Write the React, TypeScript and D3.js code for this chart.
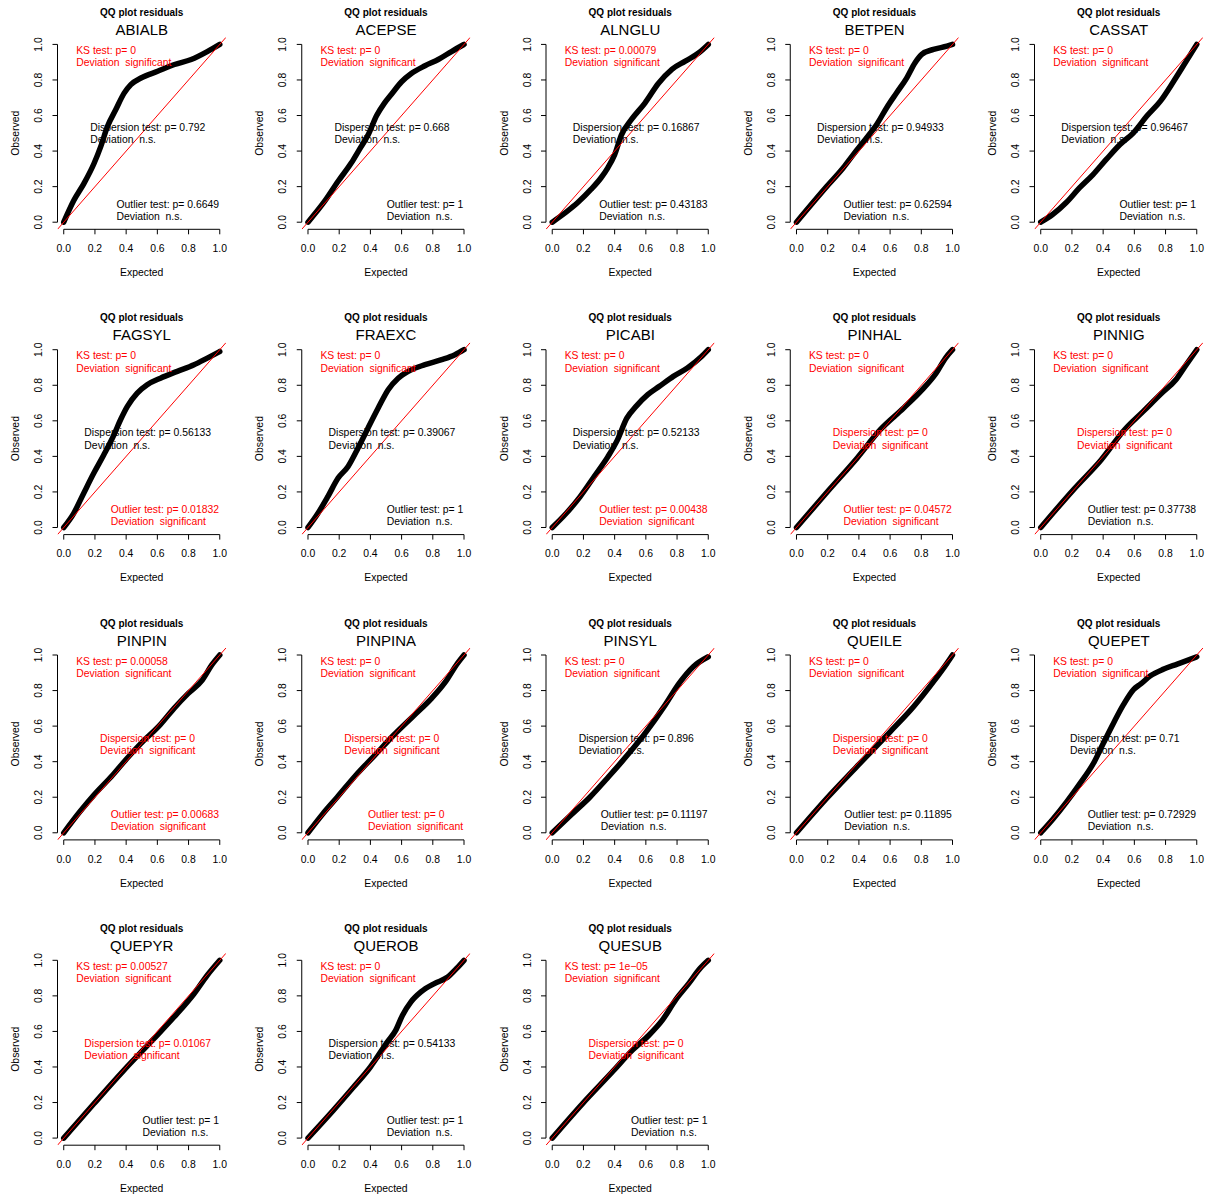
import React from "react";
import * as d3 from "d3";

// ---- data ----
const species = [
  "ABIALB", "ACEPSE", "ALNGLU", "BETPEN", "CASSAT",
  "FAGSYL", "FRAEXC", "PICABI", "PINHAL", "PINNIG",
  "PINPIN", "PINPINA", "PINSYL", "QUEILE", "QUEPET",
  "QUEPYR", "QUEROB", "QUESUB",
];
const ksP = [0, 0, 0.00079, 0, 0, 0, 0, 0, 0, 0, 0.00058, 0, 0, 0, 0, 0.00527, 0, 0.00001];
const dispP = [0.792, 0.668, 0.16867, 0.94933, 0.96467, 0.56133, 0.39067, 0.52133, 0, 0, 0, 0, 0.896, 0, 0.71, 0.01067, 0.54133, 0];
const outP = [0.6649, 1, 0.43183, 0.62594, 1, 0.01832, 1, 0.00438, 0.04572, 0.37738, 0.00683, 0, 0.11197, 0.11895, 0.72929, 1, 1, 1];

// QQ curves: [expected, observed]
const qqABIALB = [[0, 0], [0.065, 0.123], [0.129, 0.217], [0.194, 0.33], [0.237, 0.425], [0.28, 0.538], [0.333, 0.632], [0.387, 0.726], [0.43, 0.774], [0.495, 0.811], [0.602, 0.849], [0.71, 0.887], [0.817, 0.915], [0.925, 0.962], [1, 1]];
const qqACEPSE = [[0, 0], [0.107, 0.118], [0.193, 0.23], [0.278, 0.334], [0.33, 0.41], [0.385, 0.49], [0.44, 0.6], [0.49, 0.67], [0.535, 0.72], [0.6, 0.79], [0.66, 0.835], [0.75, 0.88], [0.835, 0.915], [0.92, 0.96], [1, 1]];
const qqALNGLU = [[0, 0], [0.097, 0.062], [0.162, 0.109], [0.248, 0.184], [0.313, 0.25], [0.356, 0.306], [0.4, 0.38], [0.443, 0.49], [0.508, 0.578], [0.594, 0.67], [0.68, 0.78], [0.767, 0.86], [0.853, 0.906], [0.94, 0.953], [1, 1]];
const qqBETPEN = [[0, 0], [0.193, 0.2], [0.3, 0.306], [0.364, 0.38], [0.45, 0.475], [0.514, 0.55], [0.578, 0.644], [0.642, 0.728], [0.707, 0.812], [0.76, 0.897], [0.803, 0.944], [0.878, 0.972], [0.964, 0.99], [1, 1]];
const qqCASSAT = [[0, 0], [0.076, 0.043], [0.162, 0.109], [0.248, 0.193], [0.335, 0.268], [0.42, 0.353], [0.508, 0.437], [0.594, 0.503], [0.68, 0.597], [0.767, 0.681], [0.853, 0.794], [0.94, 0.916], [1, 1]];
const qqFAGSYL = [[0, 0], [0.064, 0.08], [0.128, 0.193], [0.193, 0.306], [0.257, 0.409], [0.321, 0.52], [0.364, 0.606], [0.407, 0.68], [0.471, 0.756], [0.535, 0.803], [0.62, 0.84], [0.728, 0.878], [0.835, 0.915], [0.92, 0.953], [1, 0.99]];
const qqFRAEXC = [[0, 0], [0.064, 0.08], [0.128, 0.175], [0.193, 0.278], [0.257, 0.343], [0.321, 0.447], [0.385, 0.56], [0.45, 0.672], [0.514, 0.775], [0.578, 0.84], [0.642, 0.878], [0.75, 0.916], [0.857, 0.944], [0.942, 0.972], [1, 1]];
const qqPICABI = [[0, 0], [0.09, 0.08], [0.179, 0.174], [0.269, 0.287], [0.358, 0.4], [0.418, 0.493], [0.478, 0.615], [0.537, 0.681], [0.612, 0.747], [0.687, 0.794], [0.776, 0.85], [0.866, 0.897], [0.955, 0.96], [1, 1]];
const qqPINHAL = [[0, 0], [0.209, 0.212], [0.388, 0.39], [0.537, 0.55], [0.687, 0.672], [0.806, 0.775], [0.896, 0.869], [0.955, 0.953], [1, 1]];
const qqPINNIG = [[0, 0], [0.209, 0.212], [0.388, 0.381], [0.537, 0.55], [0.657, 0.653], [0.776, 0.756], [0.866, 0.831], [0.925, 0.906], [1, 1]];
const qqPINPIN = [[0, 0], [0.103, 0.118], [0.193, 0.212], [0.314, 0.325], [0.405, 0.418], [0.495, 0.503], [0.616, 0.606], [0.707, 0.7], [0.798, 0.784], [0.888, 0.859], [0.949, 0.944], [1, 1]];
const qqPINPINA = [[0, 0], [0.097, 0.109], [0.187, 0.2], [0.308, 0.325], [0.429, 0.437], [0.55, 0.55], [0.671, 0.653], [0.792, 0.756], [0.882, 0.85], [0.958, 0.953], [1, 1]];
const qqPINSYL = [[0, 0], [0.12, 0.1], [0.241, 0.2], [0.361, 0.315], [0.482, 0.437], [0.602, 0.568], [0.723, 0.718], [0.813, 0.84], [0.904, 0.934], [1, 0.99]];
const qqQUEILE = [[0, 0], [0.193, 0.193], [0.385, 0.371], [0.6, 0.568], [0.75, 0.709], [0.878, 0.85], [0.964, 0.953], [1, 1]];
const qqQUEPET = [[0, 0], [0.08, 0.079], [0.166, 0.174], [0.252, 0.278], [0.338, 0.391], [0.402, 0.505], [0.467, 0.618], [0.531, 0.722], [0.596, 0.807], [0.639, 0.836], [0.703, 0.883], [0.789, 0.921], [0.875, 0.949], [0.961, 0.977], [1, 0.99]];
const qqQUEPYR = [[0, 0], [0.193, 0.193], [0.385, 0.381], [0.578, 0.559], [0.707, 0.681], [0.835, 0.812], [0.92, 0.916], [1, 1]];
const qqQUEROB = [[0, 0], [0.162, 0.156], [0.292, 0.287], [0.4, 0.4], [0.508, 0.54], [0.562, 0.606], [0.605, 0.69], [0.659, 0.765], [0.724, 0.822], [0.81, 0.869], [0.896, 0.906], [0.961, 0.962], [1, 1]];
const qqQUESUB = [[0, 0], [0.193, 0.193], [0.385, 0.372], [0.514, 0.495], [0.621, 0.58], [0.707, 0.665], [0.792, 0.779], [0.878, 0.873], [0.942, 0.949], [1, 1]];

const curves = [
  qqABIALB, qqACEPSE, qqALNGLU, qqBETPEN, qqCASSAT,
  qqFAGSYL, qqFRAEXC, qqPICABI, qqPINHAL, qqPINNIG,
  qqPINPIN, qqPINPINA, qqPINSYL, qqQUEILE, qqQUEPET,
  qqQUEPYR, qqQUEROB, qqQUESUB,
];
const ticks = [0, 0.2, 0.4, 0.6, 0.8, 1.0];

// ---- layout ----
const W = 1211;
const H = 1196;
const COL_W = 244.25;
const ROW_H = 305.3;
const PL = 57.5, PR = 226, PT = 37.3, PB = 229.3;
const FONT = "'Liberation Sans', Arial, Helvetica, sans-serif";
const FS = 10.4;

let ctx: CanvasRenderingContext2D | null = null;
function textW(s: string) {
  if (!ctx) {
    const c = document.createElement("canvas");
    ctx = c.getContext("2d");
  }
  if (!ctx) return s.length * 5.5;
  ctx.font = `${FS}px ${FONT}`;
  return ctx.measureText(s).width;
}

function fmtP(p: number) {
  if (p === 0) return "0";
  if (p < 1e-4) {
    const e = Math.floor(Math.log10(p));
    const m = Math.round(p / Math.pow(10, e));
    return `${m}e\u2212${String(-e).padStart(2, "0")}`;
  }
  return String(p);
}

function Panel({ i }: { i: number }) {
  const col = i % 5;
  const row = Math.floor(i / 5);
  const ox = col * COL_W;
  const oy = row * ROW_H;
  const x = d3.scaleLinear().domain([-0.04, 1.04]).range([PL, PR]);
  const y = d3.scaleLinear().domain([-0.04, 1.04]).range([PB, PT]);
  const line = d3
    .line<number[]>()
    .x((d) => x(d[0]))
    .y((d) => y(d[1]))
    .curve(d3.curveMonotoneX);
  const cx = (PL + PR) / 2;
  const cy = (PT + PB) / 2;

  const tests = [
    { label: "KS test", p: ksP[i] },
    { label: "Dispersion test", p: dispP[i] },
    { label: "Outlier test", p: outP[i] },
  ].map((t) => {
    const sig = t.p < 0.05;
    return {
      l1: `${t.label}: p= ${fmtP(t.p)}`,
      l2: sig ? "Deviation  significant" : "Deviation  n.s.",
      color: sig ? "#FF0000" : "#000000",
    };
  });
  const wMid = Math.max(textW(tests[1].l1), textW(tests[1].l2));
  const wBot = Math.max(textW(tests[2].l1), textW(tests[2].l2));
  const pos = [
    { x: PL + 18.7, y1: 54.2 },
    { x: cx - wMid / 2 + 6, y1: cy - 2.2 },
    { x: PR - 7 - wBot, y1: PB - 21.6 },
  ];
  const clipId = `clip${i}`;

  return (
    <g transform={`translate(${ox},${oy})`} fontFamily={FONT}>
      <defs>
        <clipPath id={clipId}>
          <rect x={PL} y={PT} width={PR - PL} height={PB - PT} />
        </clipPath>
      </defs>
      <text x={x(0.5)} y={16} textAnchor="middle" fontSize={10} fontWeight="bold">
        QQ plot residuals
      </text>
      <text x={x(0.5)} y={35} textAnchor="middle" fontSize={15}>
        {species[i]}
      </text>
      {/* axes */}
      <g stroke="#000" strokeWidth={1} fill="none">
        <line x1={x(0)} x2={x(1)} y1={PB} y2={PB} />
        <line x1={PL} x2={PL} y1={y(0)} y2={y(1)} />
        {ticks.map((t) => (
          <line key={"xt" + t} x1={x(t)} x2={x(t)} y1={PB} y2={PB + 5} />
        ))}
        {ticks.map((t) => (
          <line key={"yt" + t} x1={PL} x2={PL - 5} y1={y(t)} y2={y(t)} />
        ))}
      </g>
      {ticks.map((t) => (
        <text key={"xl" + t} x={x(t)} y={252} textAnchor="middle" fontSize={FS}>
          {t.toFixed(1)}
        </text>
      ))}
      {ticks.map((t) => (
        <text
          key={"yl" + t}
          transform={`translate(42,${y(t)}) rotate(-90)`}
          textAnchor="middle"
          fontSize={FS}
        >
          {t.toFixed(1)}
        </text>
      ))}
      <text x={x(0.5)} y={276} textAnchor="middle" fontSize={FS}>
        Expected
      </text>
      <text transform={`translate(19,${y(0.5)}) rotate(-90)`} textAnchor="middle" fontSize={FS}>
        Observed
      </text>
      {/* data */}
      <path
        d={line(curves[i] as number[][]) || ""}
        fill="none"
        stroke="#000"
        strokeWidth={5.5}
        strokeLinecap="round"
        strokeLinejoin="round"
      />
      <line
        x1={x(-0.04)}
        y1={y(-0.04)}
        x2={x(1.04)}
        y2={y(1.04)}
        stroke="#FF0000"
        strokeWidth={1}
        clipPath={`url(#${clipId})`}
      />
      {tests.map((t, k) => (
        <g key={k} fill={t.color} fontSize={FS} style={{ whiteSpace: "pre" }}>
          <text x={pos[k].x} y={pos[k].y1} xmlSpace="preserve">
            {t.l1}
          </text>
          <text x={pos[k].x} y={pos[k].y1 + 12.2} xmlSpace="preserve">
            {t.l2}
          </text>
        </g>
      ))}
    </g>
  );
}

export default function App() {
  return (
    <svg
      width={W}
      height={H}
      viewBox={`0 0 ${W} ${H}`}
      style={{ position: "absolute", left: 0, top: 0, background: "#fff" }}
    >
      <rect x={0} y={0} width={W} height={H} fill="#fff" />
      {species.map((_, i) => (
        <Panel key={i} i={i} />
      ))}
    </svg>
  );
}
